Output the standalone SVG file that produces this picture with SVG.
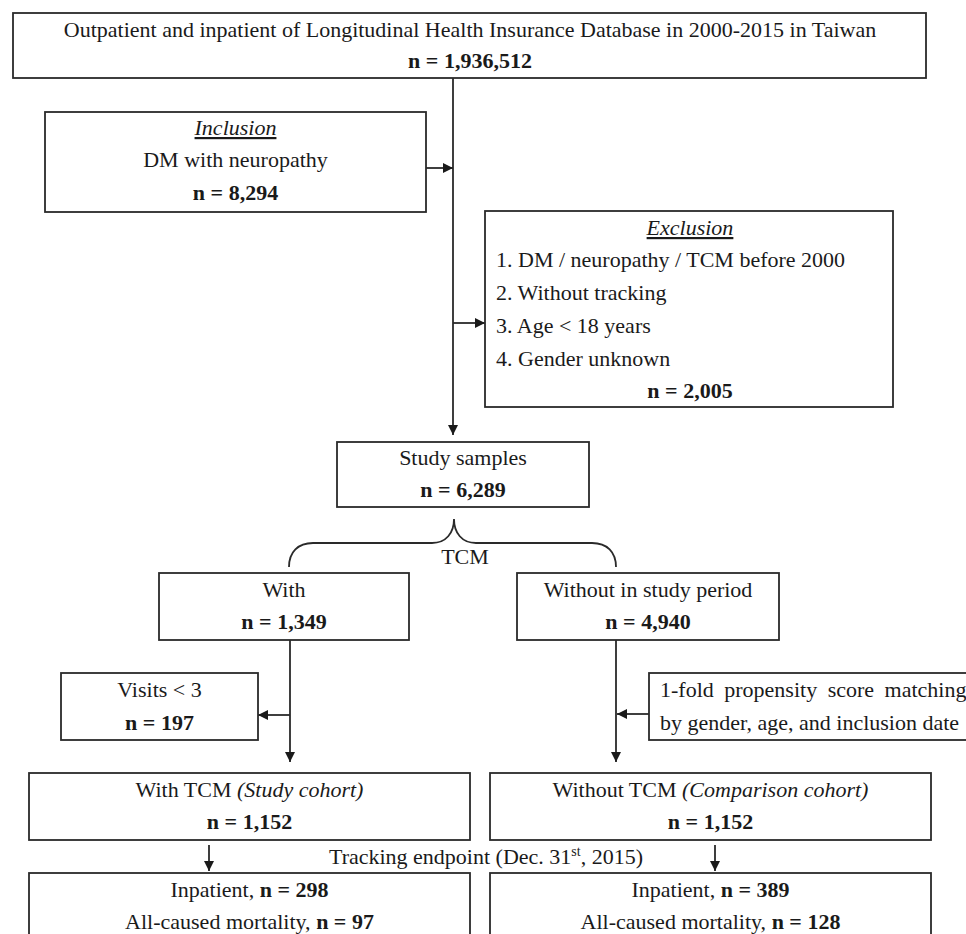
<svg xmlns="http://www.w3.org/2000/svg" width="966" height="934" viewBox="0 0 966 934">
<defs>
<style>
text{font-family:"Liberation Serif","Times New Roman",serif;font-size:22px;fill:#1a1a1a}
.c{text-anchor:middle}
.b{font-weight:bold}
.i{font-style:italic}
.u{text-decoration:underline}
.box{fill:#fff;stroke:#2a2a2a;stroke-width:1.8}
.ln{fill:none;stroke:#2a2a2a;stroke-width:1.8}
</style>
<marker id="ah" markerUnits="userSpaceOnUse" markerWidth="10" markerHeight="10" viewBox="0 0 10 10" refX="10" refY="5" orient="auto">
<path d="M0,0 L10,5 L0,10 z" fill="#1a1a1a"/>
</marker>
</defs>
<rect width="966" height="934" fill="#fff"/>

<g id="connectors">
<line class="ln" x1="453" y1="78" x2="453" y2="435" marker-end="url(#ah)"/>
<line class="ln" x1="426" y1="168" x2="453" y2="168" marker-end="url(#ah)"/>
<line class="ln" x1="453" y1="323" x2="485" y2="323" marker-end="url(#ah)"/>
<path class="ln" d="M289,567 C289,552 298,543 313,543 L432,543 C446,543 454,533 454,519 C454,533 462,543 476,543 L592,543 C607,543 616,552 616,567"/>
<line class="ln" x1="290" y1="640" x2="290" y2="762" marker-end="url(#ah)"/>
<line class="ln" x1="290" y1="715" x2="258" y2="715" marker-end="url(#ah)"/>
<line class="ln" x1="616" y1="640" x2="616" y2="762" marker-end="url(#ah)"/>
<line class="ln" x1="649" y1="714" x2="617" y2="714" marker-end="url(#ah)"/>
<line class="ln" x1="209" y1="845" x2="209" y2="871" marker-end="url(#ah)"/>
<line class="ln" x1="715" y1="845" x2="715" y2="871" marker-end="url(#ah)"/>
</g>

<g id="source">
<rect class="box" x="13" y="13" width="913" height="65"/>
<text class="c" x="470" y="37">Outpatient and inpatient of Longitudinal Health Insurance Database in 2000-2015 in Taiwan</text>
<text class="c b" x="470" y="68">n = 1,936,512</text>
</g>

<g id="inclusion">
<rect class="box" x="45" y="112" width="381" height="100"/>
<text class="c i u" x="235.5" y="135">Inclusion</text>
<text class="c" x="235.5" y="167">DM with neuropathy</text>
<text class="c b" x="235.5" y="200">n = 8,294</text>
</g>

<g id="exclusion">
<rect class="box" x="485" y="211" width="408" height="196"/>
<text class="c i u" x="690" y="235">Exclusion</text>
<text x="496" y="267">1. DM / neuropathy / TCM before 2000</text>
<text x="496" y="300">2. Without tracking</text>
<text x="496" y="333">3. Age &lt; 18 years</text>
<text x="496" y="366">4. Gender unknown</text>
<text class="c b" x="690" y="398">n = 2,005</text>
</g>

<g id="study-samples">
<rect class="box" x="337" y="442" width="252" height="65"/>
<text class="c" x="463" y="465">Study samples</text>
<text class="c b" x="463" y="497">n = 6,289</text>
</g>

<g id="tcm-label">
<text class="c" x="465" y="564">TCM</text>
</g>

<g id="with">
<rect class="box" x="159" y="573" width="250" height="67"/>
<text class="c" x="284" y="597">With</text>
<text class="c b" x="284" y="629">n = 1,349</text>
</g>

<g id="without">
<rect class="box" x="517" y="573" width="262" height="67"/>
<text class="c" x="648" y="597">Without in study period</text>
<text class="c b" x="648" y="629">n = 4,940</text>
</g>

<g id="visits">
<rect class="box" x="61" y="673" width="197" height="67"/>
<text class="c" x="159.5" y="697">Visits &lt; 3</text>
<text class="c b" x="159.5" y="730">n = 197</text>
</g>

<g id="matching">
<rect class="box" x="649" y="673" width="340" height="67"/>
<text x="660" y="697" word-spacing="5">1-fold propensity score matching</text>
<text x="660" y="730">by gender, age, and inclusion date</text>
</g>

<g id="study-cohort">
<rect class="box" x="29" y="773" width="441" height="67"/>
<text class="c" x="249.5" y="797">With TCM <tspan class="i">(Study cohort)</tspan></text>
<text class="c b" x="249.5" y="829">n = 1,152</text>
</g>

<g id="comparison-cohort">
<rect class="box" x="490" y="773" width="441" height="67"/>
<text class="c" x="710.5" y="797">Without TCM <tspan class="i">(Comparison cohort)</tspan></text>
<text class="c b" x="710.5" y="829">n = 1,152</text>
</g>

<g id="tracking-label">
<text class="c" x="486" y="864">Tracking endpoint (Dec. 31<tspan font-size="14" dy="-8">st</tspan><tspan dy="8">, 2015)</tspan></text>
</g>

<g id="study-outcome">
<rect class="box" x="29" y="873" width="441" height="80"/>
<text class="c" x="249.5" y="897">Inpatient, <tspan class="b">n = 298</tspan></text>
<text class="c" x="249.5" y="929">All-caused mortality, <tspan class="b">n = 97</tspan></text>
</g>

<g id="comparison-outcome">
<rect class="box" x="490" y="873" width="441" height="80"/>
<text class="c" x="710.5" y="897">Inpatient, <tspan class="b">n = 389</tspan></text>
<text class="c" x="710.5" y="929">All-caused mortality, <tspan class="b">n = 128</tspan></text>
</g>
</svg>
